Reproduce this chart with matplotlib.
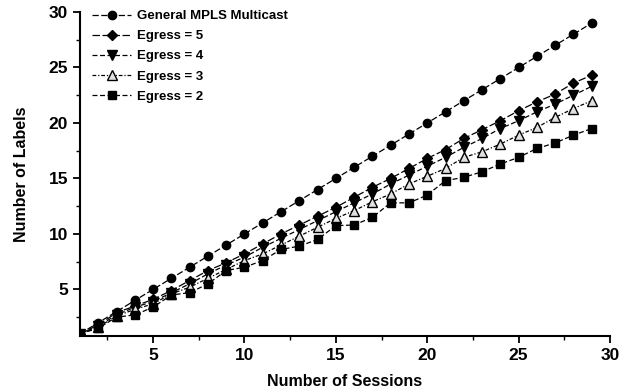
import matplotlib
matplotlib.use("Agg")
import matplotlib.pyplot as plt
from matplotlib.ticker import MultipleLocator

sessions = list(range(1, 30))
general = [1, 2, 3, 4, 5, 6, 7, 8, 9, 10, 11, 12, 13, 14, 15, 16, 17, 18, 19, 20,
           21, 22, 23, 24, 25, 26, 27, 28, 29]
egress5 = [1, 1.8, 2.9, 3.5, 4.1, 4.9, 5.8, 6.7, 7.4, 8.2, 9.1, 10.0, 10.8, 11.6, 12.4,
           13.3, 14.2, 15.0, 15.9, 16.8, 17.6, 18.6, 19.4, 20.2, 21.1, 21.9, 22.6, 23.6, 24.3]
egress4 = [1, 1.7, 2.7, 3.4, 3.9, 4.7, 5.5, 6.4, 7.2, 7.9, 8.8, 9.6, 10.4, 11.2, 12.0,
           12.8, 13.6, 14.5, 15.3, 16.1, 16.9, 17.8, 18.6, 19.5, 20.2, 21.0, 21.7, 22.5, 23.3]
egress3 = [1, 1.6, 2.6, 3.2, 3.7, 4.6, 5.2, 6.0, 6.8, 7.6, 8.2, 9.0, 9.8, 10.6, 11.4,
           12.1, 12.9, 13.6, 14.5, 15.2, 15.9, 16.9, 17.4, 18.1, 18.9, 19.6, 20.5, 21.3, 22.0]
egress2 = [1, 1.5, 2.5, 2.7, 3.4, 4.5, 4.7, 5.5, 6.7, 7.0, 7.6, 8.6, 8.9, 9.5, 10.75,
           10.8, 11.5, 12.8, 12.8, 13.5, 14.8, 15.1, 15.6, 16.3, 16.9, 17.7, 18.2, 18.9, 19.5]

labels = ["General MPLS Multicast", "Egress = 5", "Egress = 4", "Egress = 3", "Egress = 2"]

plt.rcParams['font.family'] = ['Liberation Sans', 'DejaVu Sans']
plt.rcParams['font.weight'] = 'bold'

fig = plt.figure(figsize=(6.33, 3.92), dpi=100)
ax = fig.add_axes([80/633, 1 - 336/392, 530/633, (336 - 12)/392])

styles = [
    dict(marker='o', ms=6, mfc='black', mec='black', ls=(0, (5, 2))),
    dict(marker='D', ms=5.5, mfc='black', mec='black', ls=(0, (6, 2))),
    dict(marker='v', ms=7, mfc='black', mec='black', ls=(0, (4, 2))),
    dict(marker='^', ms=6.5, mfc='#e0e0e0', mec='black', ls=(0, (3, 1.5, 1, 1.5))),
    dict(marker='s', ms=5.5, mfc='black', mec='black', ls=(0, (4, 2))),
]
series = [general, egress5, egress4, egress3, egress2]
for ys, lab, st in zip(series, labels, styles):
    ax.plot(sessions, ys, color='black', lw=0.9, label=lab, clip_on=True, **st)

ax.set_xlim(1, 30)
ax.set_ylim(0.8, 30)
ax.xaxis.set_major_locator(MultipleLocator(5))
ax.yaxis.set_major_locator(MultipleLocator(5))
ax.xaxis.set_minor_locator(MultipleLocator(2.5))
ax.yaxis.set_minor_locator(MultipleLocator(2.5))
ax.spines['top'].set_visible(False)
ax.spines['right'].set_visible(False)
ax.spines['left'].set_linewidth(1.5)
ax.spines['bottom'].set_linewidth(1.5)
ax.tick_params(which='major', length=5, width=1.3, labelsize=12.5)
ax.tick_params(which='minor', length=3, width=1)
for t in ax.get_xticklabels() + ax.get_yticklabels():
    t.set_fontweight('bold')

ax.set_xlabel("Number of Sessions", fontsize=11.5, fontweight='bold', labelpad=8)
ax.set_ylabel("Number of Labels", fontsize=11.5, fontweight='bold', labelpad=14)

leg = ax.legend(loc='upper left', bbox_to_anchor=(0.005, 1.035), frameon=False,
                prop={'size': 9.5, 'weight': 'bold'}, handlelength=3.0,
                labelspacing=0.6, handletextpad=0.4, borderaxespad=0.3)

fig.savefig("out.png", dpi=100)
